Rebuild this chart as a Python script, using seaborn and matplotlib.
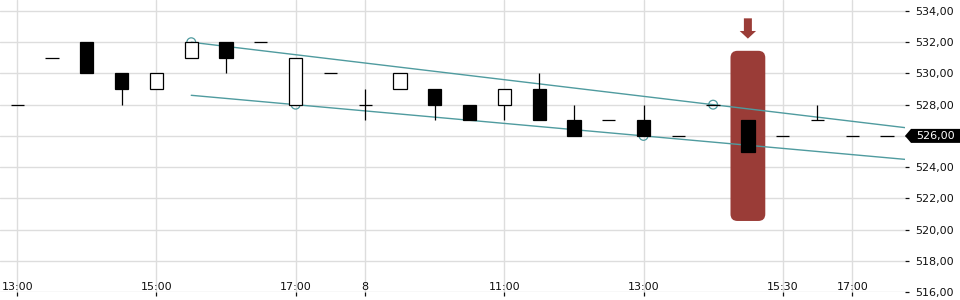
import matplotlib
matplotlib.use("Agg")
import matplotlib.pyplot as plt
from matplotlib.patches import FancyBboxPatch, FancyArrow, Polygon
from matplotlib.transforms import Affine2D, ScaledTranslation
import numpy as np
import pandas as pd
import seaborn as sns

# ---- data ----
idx = list(range(26))
opens  = [528, 531, 532, 530, 529, 531, 532, 532, 528, 530, 528, 529, 529,
          528, 528, 529, 527, 527, 527, 526, 528, 527, 526, 527, 526, 526]
closes = [528, 531, 530, 529, 530, 532, 531, 532, 531, 530, 528, 530, 528,
          527, 529, 527, 526, 527, 526, 526, 528, 525, 526, 527, 526, 526]
highs  = [528, 531, 532, 530, 530, 532, 532, 532, 531, 530, 529, 530, 529,
          528, 529, 530, 528, 527, 528, 526, 528, 527, 526, 528, 526, 526]
lows   = [528, 531, 530, 528, 529, 531, 530, 532, 528, 530, 527, 529, 527,
          527, 527, 527, 526, 527, 526, 526, 528, 525, 526, 527, 526, 526]

tick_pos = [0, 4, 8, 10, 14, 18, 22, 24]
tick_labels = ["13:00", "15:00", "17:00", "8", "11:00", "13:00", "15:30", "17:00"]

upper_idx, upper_val = [5, 20], [532, 528]
lower_idx, lower_val = [8, 18], [528, 526]
trend_start = 5
pivot_idx = [5, 8, 18, 20]
pivot_val = [532, 528, 526, 528]

highlight_idx = 21
highlight_low, highlight_high = 520.55, 531.45
yticks = [516, 518, 520, 522, 524, 526, 528, 530, 532, 534]

# ---- style ----
sns.set_theme(style="whitegrid", rc={"grid.color": "#dddddd", "grid.linewidth": 1.0})
plt.rcParams["font.family"] = ["DejaVu Sans"]

TEAL = "#4f9b9f"
RED = "#9a3c37"

fig = plt.figure(figsize=(9.6, 3.0), dpi=100)
ax = fig.add_axes([0, 8 / 300, 905 / 960, 292 / 300])

df = pd.DataFrame({"i": idx, "o": opens, "c": closes, "h": highs, "l": lows})

# highlight box + arrow
px_x, px_y = 34.79, 15.61
hb = FancyBboxPatch((highlight_idx - 0.5, highlight_low), 1.0, highlight_high - highlight_low,
                    boxstyle="round,pad=0,rounding_size=0.2", mutation_aspect=px_x / px_y,
                    fc=RED, ec="none", zorder=1)
ax.add_patch(hb)
ax.add_patch(FancyArrow(highlight_idx, 533.53, 0, -1.30, width=0.23, head_width=0.47,
                        head_length=0.49, length_includes_head=True, fc=RED, ec="none", zorder=1))

# trend lines
def trend(ii, vv):
    s = (vv[1] - vv[0]) / (ii[1] - ii[0])
    xs = np.array([trend_start, 27])
    return xs, vv[0] + s * (xs - ii[0])

for ii, vv in [(upper_idx, upper_val), (lower_idx, lower_val)]:
    xs, ys = trend(ii, vv)
    sns.lineplot(x=xs, y=ys, ax=ax, color=TEAL, lw=1.0, zorder=2)

sns.scatterplot(x=pivot_idx, y=pivot_val, ax=ax, s=40, facecolor="none",
                edgecolor=TEAL, linewidth=0.9, zorder=2)

# candles
bw = 0.38
LW = 0.9
for _, r in df.iterrows():
    x = r.i
    if r.h > max(r.o, r.c):
        ax.vlines(x, max(r.o, r.c), r.h, color="black", lw=LW, zorder=3)
    if r.l < min(r.o, r.c):
        ax.vlines(x, r.l, min(r.o, r.c), color="black", lw=LW, zorder=3)
    if r.o == r.c:
        ax.hlines(r.o, x - bw / 2, x + bw / 2, color="black", lw=LW, zorder=4)
    else:
        fc = "white" if r.c > r.o else "black"
        ax.bar(x, abs(r.c - r.o), bottom=min(r.o, r.c), width=bw, color=fc,
               edgecolor="black", linewidth=LW, zorder=4)

ax.set_xlim(-17.3 / px_x, (905 - 17.3) / px_x)
ax.set_ylim(516, 534 + 11 / px_y)

for s in ax.spines.values():
    s.set_visible(False)

last = closes[-1]
ax.set_xticks(tick_pos)
ax.set_xticklabels(tick_labels)
ax.yaxis.tick_right()
ax.set_yticks(yticks)
ax.set_yticklabels(["" if v == last else f"{v:.2f}".replace(".", ",") for v in yticks])
ax.tick_params(axis="y", which="both", right=True, left=False, length=3, width=0.9,
               pad=4.3, labelsize=8, colors="#111111")
ax.tick_params(axis="x", which="both", bottom=True, length=3, width=0.9,
               pad=-10.5, labelsize=8, colors="#111111")
ax.grid(True, color="#dddddd", lw=1.0)
ax.set_axisbelow(True)
ax.set_xlabel("")
ax.set_ylabel("")

# last price tag (pixel-shaped polygon anchored at right edge / last close)
tag_tr = Affine2D() + ScaledTranslation(1.0, last, ax.get_yaxis_transform())
# convert: ScaledTranslation gives display offset; vertices in pixels
tag_tr = Affine2D().translate(0, 0) + ScaledTranslation(1.0, last, ax.get_yaxis_transform())
tag = Polygon([(0, 0), (6, 7), (56, 7), (56, -7), (6, -7)], closed=True,
              fc="black", ec="none", transform=tag_tr, clip_on=False, zorder=9)
ax.add_patch(tag)
ax.annotate(f"{last:.2f}".replace(".", ","), xy=(1.0, last), xycoords=ax.get_yaxis_transform(),
            xytext=(11 * 0.72, 0), textcoords="offset points", color="white", fontsize=8,
            va="center", ha="left", zorder=10, annotation_clip=False)

fig.savefig("out.png", dpi=100)
